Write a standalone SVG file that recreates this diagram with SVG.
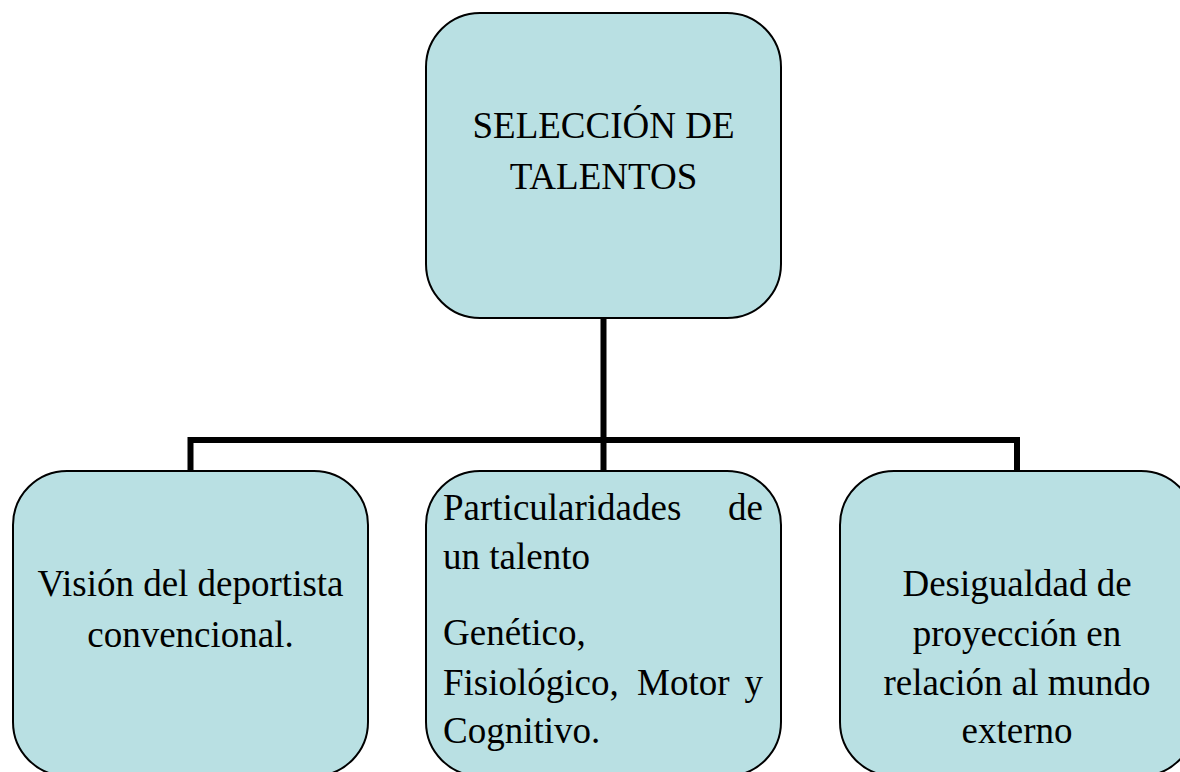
<svg xmlns="http://www.w3.org/2000/svg" width="1180" height="772" viewBox="0 0 1180 772">
<style>
.box{fill:#B9E0E3;stroke:#000;stroke-width:2}
.t{font-family:"Liberation Serif","Times New Roman",serif;font-size:37px;fill:#000}
.c{text-anchor:middle}
.conn{fill:none;stroke:#000;stroke-width:6}
</style>
<rect width="1180" height="772" fill="#fff"/>
<g id="connectors">
<path class="conn" d="M603.5 318 V471 M190.5 471 V440 H1017 V471"/>
</g>
<g id="n-top">
<rect class="box" x="426" y="13" width="355" height="305" rx="54" ry="54"/>
<text class="t c" x="603.5" y="138">SELECCIÓN DE</text>
<text class="t c" x="603.5" y="189">TALENTOS</text>
</g>
<g id="n-left">
<rect class="box" x="13" y="471" width="355" height="305" rx="54" ry="54"/>
<text class="t c" x="190.5" y="596">Visión del deportista</text>
<text class="t c" x="190.5" y="647">convencional.</text>
</g>
<g id="n-mid">
<rect class="box" x="426" y="471" width="355" height="305" rx="54" ry="54"/>
<text class="t" x="443" y="520">Particularidades</text>
<text class="t" x="763" y="520" text-anchor="end">de</text>
<text class="t" x="443" y="569">un talento</text>
<text class="t" x="443" y="645">Genético,</text>
<text class="t" x="443" y="695">Fisiológico,</text>
<text class="t" x="637" y="695">Motor</text>
<text class="t" x="763" y="695" text-anchor="end">y</text>
<text class="t" x="443" y="743">Cognitivo.</text>
</g>
<g id="n-right">
<rect class="box" x="840" y="471" width="355" height="305" rx="54" ry="54"/>
<text class="t c" x="1017" y="596">Desigualdad de</text>
<text class="t c" x="1017" y="646">proyección en</text>
<text class="t c" x="1017" y="695">relación al mundo</text>
<text class="t c" x="1017" y="743">externo</text>
</g>
</svg>
